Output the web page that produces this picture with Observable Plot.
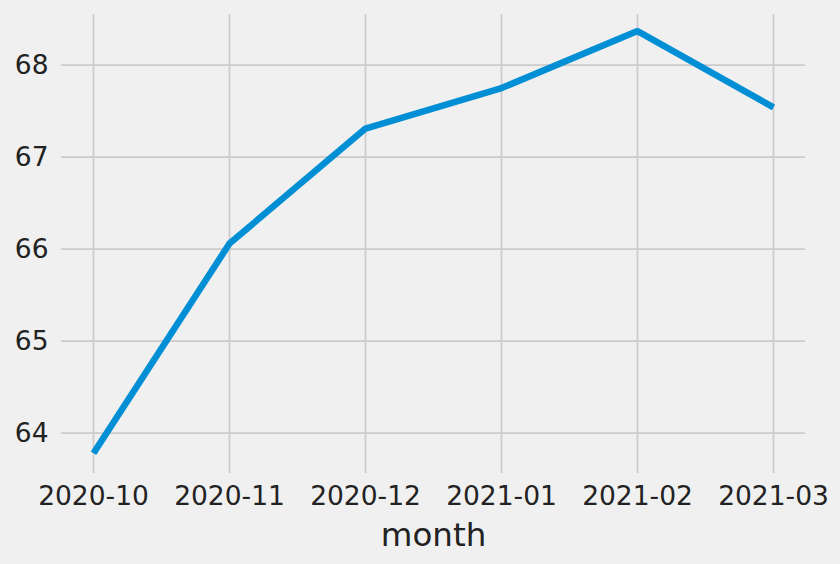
<!DOCTYPE html>
<html>
<head>
<meta charset="utf-8">
<script src="https://cdn.jsdelivr.net/npm/d3@7"></script>
<script src="https://cdn.jsdelivr.net/npm/@observablehq/plot@0.6"></script>
<style>
  html, body { margin: 0; padding: 0; background: #f0f0f0; }
  #chart svg { display: block; }
</style>
</head>
<body>
<div id="chart"></div>
<script>
const months = ["2020-10", "2020-11", "2020-12", "2021-01", "2021-02", "2021-03"];
const values = [63.78, 66.06, 67.31, 67.75, 68.37, 67.54];
const yTicks = [64, 65, 66, 67, 68];
const xLabel = "month";

const data = months.map((m, i) => ({month: m, value: values[i]}));

const chart = Plot.plot({
  width: 840,
  height: 564,
  marginLeft: 61,
  marginRight: 35,
  marginTop: 14,
  marginBottom: 91,
  style: {background: "#f0f0f0", fontFamily: "DejaVu Sans", fontSize: "26.5px", color: "#222"},
  x: {type: "point", domain: months, padding: 0.228},
  y: {domain: [63.56, 68.55]},
  marks: [
    Plot.gridX(months, {stroke: "#cbcbcb", strokeOpacity: 1, strokeWidth: 1.7}),
    Plot.gridY(yTicks, {stroke: "#cbcbcb", strokeOpacity: 1, strokeWidth: 1.7}),
    Plot.axisX({tickSize: 0, tickPadding: 13, label: null, fill: "#222"}),
    Plot.axisY(yTicks, {tickSize: 0, tickPadding: 13, label: null, fill: "#222", tickFormat: d => String(d)}),
    Plot.line(data, {x: "month", y: "value", stroke: "#008fd5", strokeWidth: 6.5, strokeLinejoin: "miter", strokeLinecap: "butt"}),
    Plot.text([xLabel], {frameAnchor: "bottom", dy: 62, lineAnchor: "middle", fontSize: 32.5, fill: "#222"})
  ]
});
document.getElementById("chart").append(chart);
</script>
</body>
</html>
